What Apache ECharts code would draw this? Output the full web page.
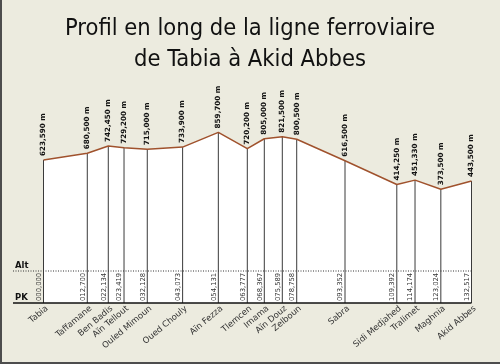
<!DOCTYPE html>
<html><head><meta charset="utf-8">
<script src="https://cdn.jsdelivr.net/npm/echarts@6/dist/echarts.min.js"></script>
<style>html,body{margin:0;padding:0;background:#ecebdf}#c{width:500px;height:364px}</style>
</head><body><div id="c"></div>
<script>
const stations = ['Tabia','Taffamane','Ben Badis','Aïn Tellout','Ouled Mimoun','Oued Chouly','Aïn Fezza','Tlemcen','Imama','Aïn Douz','Zelboun','Sabra','Sidi Medjahed','Tralimet','Maghnia','Akid Abbes'];
// kilometric point (PK) labels
const pk = [0, 12.700, 22.134, 23.419, 32.128, 43.073, 54.131, 63.777, 68.367, 75.589, 78.758, 93.352, 109.392, 114.174, 123.024, 132.517];
// horizontal position of each station on the schematic profile (km)
const plotKm = [0, 13.56, 20.06, 24.93, 32.128, 43.073, 54.131, 63.10, 68.367, 73.94, 78.40, 93.352, 109.392, 115.03, 123.024, 132.517];
const altitude = [623.590, 680.500, 742.450, 729.200, 715.000, 733.900, 859.700, 720.200, 805.000, 821.500, 800.500, 616.500, 414.250, 451.330, 373.500, 443.500];
const rowLabels = ['Alt', 'PK'];
const titleLines = ['Profil en long de la ligne ferroviaire', 'de Tabia à Akid Abbes'];

const Y_MIN = -600, Y_MAX = 1200;
const fmtAlt = v => v.toFixed(3).replace('.', ',') + ' m';
const fmtPk = v => v.toFixed(3).padStart(7, '0').replace('.', ',');
const points = plotKm.map((p, i) => [p, altitude[i]]);

const chart = echarts.init(document.getElementById('c'), null, {renderer: 'canvas'});
chart.setOption({
  backgroundColor: '#ecebdf',
  animation: false,
  title: {
    text: titleLines.join('\n'), left: 'center', top: 8,
    textStyle: {fontFamily: "'DejaVu Sans Condensed','DejaVu Sans'", fontSize: 23.5, fontWeight: 'normal', color: '#111', lineHeight: 31}
  },
  grid: {left: 43.5, right: 28.5, top: 92.6, bottom: 61},
  xAxis: {type: 'value', min: 0, max: plotKm[plotKm.length - 1], show: false},
  yAxis: {type: 'value', min: Y_MIN, max: Y_MAX, show: false},
  graphic: [
    {type: 'rect', z: 20, shape: {x: 0, y: 0, width: 2, height: 364}, style: {fill: '#4d4d4d'}},
    {type: 'rect', z: 20, shape: {x: 0, y: 362, width: 500, height: 2}, style: {fill: '#4d4d4d'}},
    {type: 'line', z: 20, shape: {x1: 13, y1: 271, x2: 471.5, y2: 271}, style: {stroke: '#333', lineWidth: 1, lineDash: [1, 1.5]}},
    {type: 'line', z: 20, shape: {x1: 13, y1: 303, x2: 471.5, y2: 303}, style: {stroke: '#111', lineWidth: 1.5}},
    {type: 'text', z: 20, x: 15, y: 265.5, style: {text: rowLabels[0], fontSize: 8.5, fontWeight: 'bold', fontFamily: 'DejaVu Sans', fill: '#111', verticalAlign: 'middle'}},
    {type: 'text', z: 20, x: 15, y: 297.5, style: {text: rowLabels[1], fontSize: 8.5, fontWeight: 'bold', fontFamily: 'DejaVu Sans', fill: '#111', verticalAlign: 'middle'}}
  ],
  series: [
    {type: 'line', data: points, symbol: 'none', lineStyle: {width: 0}, areaStyle: {color: '#ffffff', opacity: 1, origin: 'start'}, z: 1, silent: true},
    {
      type: 'custom', data: points, encode: {x: 0, y: 1}, z: 2, silent: true,
      renderItem: (params, api) => {
        const i = params.dataIndex;
        const x = api.value(0), a = api.value(1);
        const top = api.coord([x, a]);
        const bot = api.coord([x, Y_MIN]);
        return {type: 'group', children: [
          {type: 'line', shape: {x1: top[0], y1: top[1], x2: bot[0], y2: bot[1]}, style: {stroke: '#3a3a3a', lineWidth: 1}},
          {type: 'text', x: top[0], y: top[1] - 4, rotation: Math.PI / 2,
            style: {text: fmtAlt(altitude[i]), fontSize: 7.2, fontWeight: 'bold', fontFamily: 'DejaVu Sans', fill: '#111', align: 'left', verticalAlign: 'middle'}},
          {type: 'text', x: bot[0] - 1, y: bot[1] - 2, rotation: Math.PI / 2,
            style: {text: fmtPk(pk[i]), fontSize: 6.8, fontFamily: 'DejaVu Sans', fill: '#333', align: 'left', verticalAlign: 'bottom'}},
          {type: 'text', x: bot[0] + 3.5, y: bot[1] + 4.5, rotation: 40 * Math.PI / 180,
            style: {text: stations[i], fontSize: 8.5, fontFamily: 'DejaVu Sans', fill: '#333', align: 'right', verticalAlign: 'middle'}}
        ]};
      }
    },
    {type: 'line', data: points, symbol: 'none', lineStyle: {color: '#a0522d', width: 1.5}, z: 3, silent: true}
  ]
});
</script></body></html>
